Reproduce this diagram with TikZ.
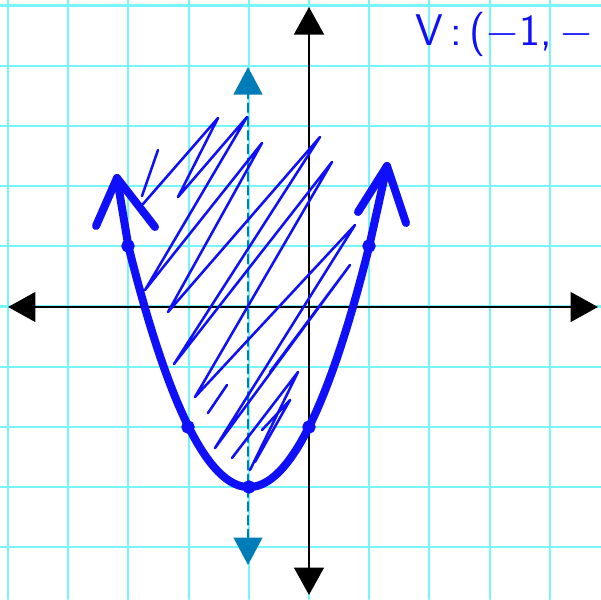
\documentclass[tikz,border=0pt]{standalone}
\usepackage{amsmath,amssymb}
\usepackage{xcolor}
\usetikzlibrary{arrows.meta}
\definecolor{gridcyan}{RGB}{120,245,250}
\definecolor{penblue}{RGB}{15,15,250}
\definecolor{symblue}{RGB}{0,125,185}

\begin{document}
\begin{tikzpicture}[x=0.01661cm,y=-0.01661cm,line join=round,line cap=round,
    gridline/.style={gridcyan,line width=1pt},
    axis/.style={black,line width=1.4pt,{Triangle[length=13pt,width=14pt]}-{Triangle[length=13pt,width=14pt]}},
    symline/.style={symblue,line width=1.3pt,dash pattern=on 4pt off 2.5pt,{Triangle[length=13pt,width=13.5pt]}-{Triangle[length=13pt,width=13.5pt]}},
    curve/.style={penblue,line width=3.8pt},
    hatch/.style={penblue,line width=1.2pt},
    ptdot/.style={penblue,line width=1.6pt},
    vtext/.style={penblue,font=\sffamily\fontsize{21}{21}\selectfont,inner sep=0pt}]
      \useasboundingbox (0,0) rectangle (601,599);
      \clip (0,0) rectangle (601,599);
      % grid
      \foreach \k in {-5,...,4} {\draw[gridline] ({309+60.2*\k},0) -- ({309+60.2*\k},599);}
      \foreach \k in {-4,...,5} {\draw[gridline] (0,{306.5-60.2*\k}) -- (601,{306.5-60.2*\k});}
      % axes
      \coordinate (xl) at (8,307);
      \coordinate (xr) at (598,307);
      \coordinate (yt) at (309,7);
      \coordinate (yb) at (309,595);
      \draw[axis] (xl) -- (xr);
      \draw[axis] (yb) -- (yt);
      % axis of symmetry
      \coordinate (st) at (248,67);
      \coordinate (sb) at (248,565);
      \draw[symline] (sb) -- (st);
      % shading
      \draw[hatch] (158,150) -- (142,196);
      \draw[hatch] (143,204) -- (218,118) -- (178,197) -- (247,117) -- (145,290) -- (262,143)
        -- (168,312) -- (320,137) -- (174,364) -- (332,162) -- (195,397) -- (355,225)
        -- (215,448) -- (350,265) -- (270,372);
      \draw[hatch] (208,413) -- (227,385);
      \draw[hatch] (250,470) -- (298,372) -- (232,458);
      \draw[hatch] (262,430) -- (290,400) -- (255,462);
      % parabola
      \coordinate (lt) at (117,178);
      \coordinate (rt) at (387,166);
      \draw[curve] (lt) -- plot[domain=-3:1,samples=60] ({309+60.2*\x},{306.5-60.2*((\x+1)^2-3)}) -- (rt);
      \draw[curve] (96,226) -- (lt) -- (155,227);
      \draw[curve] (358,212) -- (rt) -- (406,223);
      \foreach \px/\py in {128/246,188/427,249/487,309/427,369/246} {\draw[ptdot] (\px,\py) circle[radius=5];}
      % vertex label
      \node[vtext,anchor=north east] (vlabel) at (594,12) {V\,:\,($-$1,\,$-$};
\end{tikzpicture}
\end{document}
